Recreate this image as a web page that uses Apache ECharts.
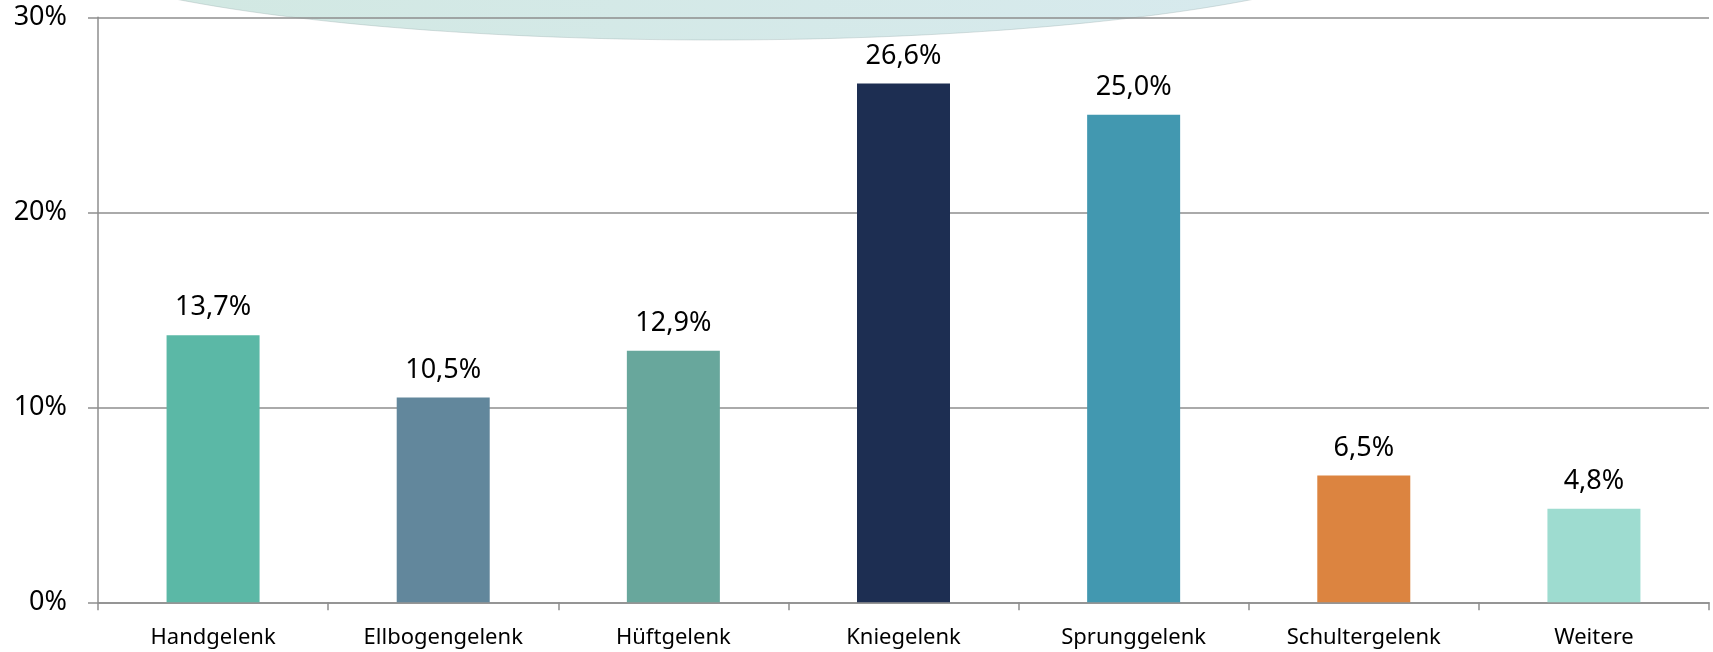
<!DOCTYPE html>
<html>
<head>
<meta charset="utf-8">
<script src="https://cdn.jsdelivr.net/npm/echarts@6/dist/echarts.min.js"></script>
<style>
  html, body { margin: 0; padding: 0; background: #ffffff; }
  #chart { width: 1713px; height: 652px; }
</style>
</head>
<body>
<div id="chart"></div>
<script>
const categories = ['Handgelenk', 'Ellbogengelenk', 'Hüftgelenk', 'Kniegelenk', 'Sprunggelenk', 'Schultergelenk', 'Weitere'];
const values = [13.7, 10.5, 12.9, 26.6, 25.0, 6.5, 4.8];
const barColors = ['#5BB8A6', '#62879C', '#68A79C', '#1D2E52', '#4298B0', '#DC8440', '#9EDCD0'];
const yTicks = [0, 10, 20, 30];

const chart = echarts.init(document.getElementById('chart'), null, { renderer: 'canvas' });
const FONT = 'Noto Sans';

chart.setOption({
  backgroundColor: '#ffffff',
  animation: false,
  graphic: {
    elements: [{
      type: 'ellipse',
      z: -100,
      silent: true,
      shape: { cx: 715, cy: -70, rx: 693, ry: 110 },
      style: {
        fill: new echarts.graphic.LinearGradient(0, 0, 1, 0, [
          { offset: 0, color: '#d1e8e1' },
          { offset: 1, color: '#d8eaef' }
        ]),
        stroke: 'rgba(150,170,170,0.35)',
        lineWidth: 1
      }
    }]
  },
  grid: { left: 98, right: 4, top: 17.3, bottom: 49.7, containLabel: false },
  xAxis: {
    type: 'category',
    data: categories,
    boundaryGap: true,
    axisLine: { show: true, lineStyle: { color: '#8e8e8e', width: 1.5 } },
    axisTick: { show: true, length: 8, alignWithLabel: false, lineStyle: { color: '#8e8e8e', width: 1.5 } },
    axisLabel: { color: '#000', fontFamily: FONT, fontSize: 22, margin: 24 },
    splitLine: { show: false }
  },
  yAxis: {
    type: 'value',
    min: yTicks[0],
    max: yTicks[yTicks.length - 1],
    interval: yTicks[1] - yTicks[0],
    axisLine: { show: true, lineStyle: { color: '#8e8e8e', width: 1.5 } },
    axisTick: { show: true, length: 10, inside: false, lineStyle: { color: '#8e8e8e', width: 1.5 } },
    axisLabel: { color: '#000', fontFamily: FONT, fontSize: 27, margin: 31, formatter: '{value}%' },
    splitLine: { show: true, lineStyle: { color: '#8e8e8e', width: 1.5 } }
  },
  series: [{
    type: 'bar',
    data: values.map((v, i) => ({ value: v, itemStyle: { color: barColors[i] } })),
    barWidth: 93,
    label: {
      show: true,
      position: 'top',
      distance: 14,
      color: '#000',
      fontFamily: FONT,
      fontSize: 27,
      formatter: p => p.value.toFixed(1).replace('.', ',') + '%'
    }
  }]
});
</script>
</body>
</html>
